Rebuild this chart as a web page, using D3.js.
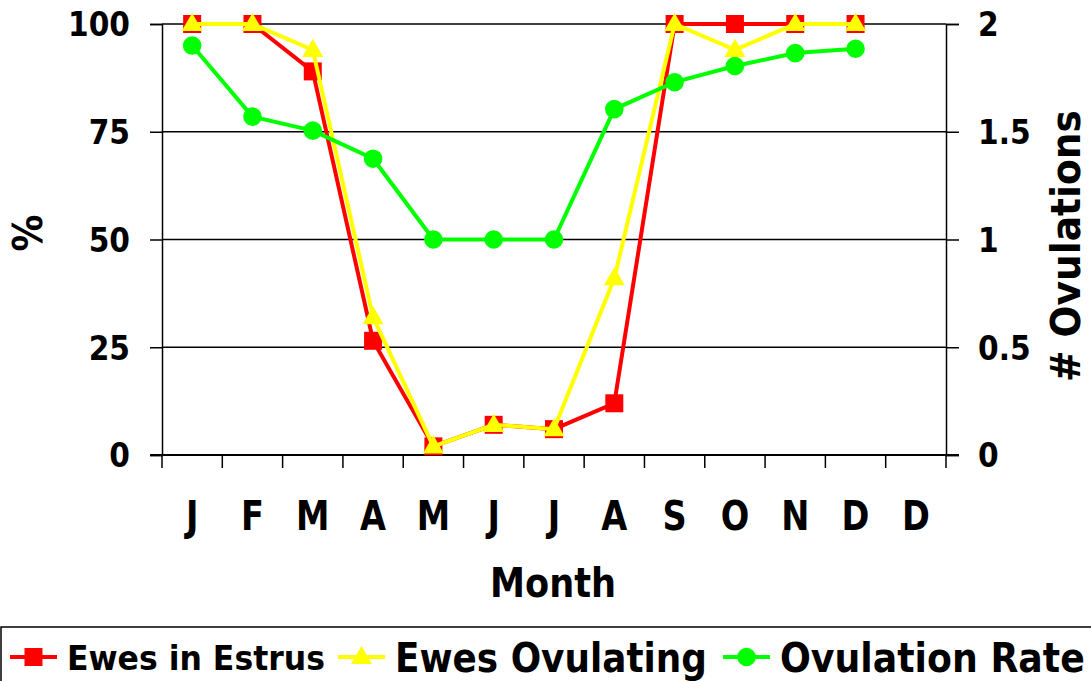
<!DOCTYPE html>
<html>
<head>
<meta charset="utf-8">
<script src="https://cdn.jsdelivr.net/npm/d3@7/dist/d3.min.js"></script>
<style>
  html, body { margin: 0; padding: 0; background: #fff; }
  svg { display: block; }
  text { font-family: "DejaVu Sans", Verdana, sans-serif; font-weight: bold; fill: #000; }
</style>
</head>
<body>
<svg id="chart" width="1091" height="681"></svg>
<script>
// ---- data ----
const months = ["J","F","M","A","M","J","J","A","S","O","N","D","D"];
const estrus = [100,100,89,26.5,2,7,6,12,100,100,100,100];
const ovulating = [100,100,94,32,2,7,6,41,100,94,100,100];
const ovulationRate = [1.9,1.57,1.505,1.375,1.0,1.0,1.0,1.605,1.73,1.805,1.865,1.885];
const leftTicks = [0,25,50,75,100];
const rightTicks = [0,0.5,1,1.5,2];
const seriesNames = ["Ewes in Estrus","Ewes Ovulating","Ovulation Rate"];

const svg = d3.select("#chart");
const L = 162, R = 946, T = 24, B = 455;

const x = d3.scaleBand().domain(d3.range(months.length)).range([L, R]).padding(0);
const y = d3.scaleLinear().domain([0,100]).range([B, T]);
const y2 = d3.scaleLinear().domain([0,2]).range([B, T]);

// horizontally condense axis tick texts (Tahoma-like width) via transform
function squeeze(sel, f) {
  sel.each(function() {
    const t = d3.select(this);
    const tx = +t.attr("x") || 0, ty = +t.attr("y") || 0;
    t.attr("x", 0).attr("y", 0).attr("transform", `translate(${tx},${ty}) scale(${f},1)`);
  });
}
// place a text with a given rendered width
function fitText(parent, str, px, py, size, width, anchor, rot) {
  const t = parent.append("text").attr("text-anchor", anchor).style("font-size", size + "px").text(str);
  const n = t.node().getComputedTextLength();
  t.attr("transform", `translate(${px},${py}) rotate(${rot || 0}) scale(${width / n},1)`);
  return t;
}

// gridlines
svg.append("g").selectAll("line").data(leftTicks.filter(d => d > 0)).join("line")
  .attr("x1", L).attr("x2", R).attr("y1", d => y(d)).attr("y2", d => y(d))
  .attr("stroke", "#000").attr("stroke-width", 1.5);

// left axis
const gl = svg.append("g").attr("transform", `translate(${L},0)`)
  .call(d3.axisLeft(y).tickValues(leftTicks).tickSize(12).tickPadding(20).tickFormat(d3.format("d")));
gl.select(".domain").attr("stroke", "#000").attr("stroke-width", 1.5);
gl.selectAll(".tick line").attr("stroke", "#000").attr("stroke-width", 1.5);
gl.selectAll(".tick text").style("font-size", "33px").attr("dy", "0.36em");
squeeze(gl.selectAll(".tick text"), 0.9);

// right axis
const gr = svg.append("g").attr("transform", `translate(${R},0)`)
  .call(d3.axisRight(y2).tickValues(rightTicks).tickSize(13).tickPadding(19).tickFormat(d => String(d)));
gr.select(".domain").attr("stroke", "#000").attr("stroke-width", 1.5);
gr.selectAll(".tick line").attr("stroke", "#000").attr("stroke-width", 1.5);
gr.selectAll(".tick text").style("font-size", "33px").attr("dy", "0.36em");
squeeze(gr.selectAll(".tick text"), 0.9);

// bottom axis (labels at band centers, ticks at band boundaries)
const gb = svg.append("g").attr("transform", `translate(0,${B})`)
  .call(d3.axisBottom(x).tickSize(0).tickPadding(75).tickFormat(i => months[i]));
gb.select(".domain").remove();
gb.selectAll(".tick text").style("font-size", "41px").attr("dy", "0");
squeeze(gb.selectAll(".tick text"), 0.82);
const bounds = d3.range(months.length).map(i => x(i)).concat([x.range()[1]]);
svg.append("g").selectAll("line").data(bounds).join("line")
  .attr("x1", d => d).attr("x2", d => d).attr("y1", B).attr("y2", B + 13)
  .attr("stroke", "#000").attr("stroke-width", 1.5);
svg.append("line").attr("x1", 150).attr("x2", 959).attr("y1", B).attr("y2", B)
  .attr("stroke", "#000").attr("stroke-width", 2.2);

// axis titles
fitText(svg, "Month", 553, 597, 41, 126, "middle", 0);
fitText(svg, "%", 42, 233, 41, 37, "middle", -90);
fitText(svg, "# Ovulations", 1080, 246, 40, 272, "middle", -90);

// series
const cx = i => x(i) + x.bandwidth() / 2;
const line1 = d3.line().x((d, i) => cx(i)).y(d => y(d));
const line2 = d3.line().x((d, i) => cx(i)).y(d => y2(d));
const sq = d3.symbol().type(d3.symbolSquare).size(18 * 18);
const tri = d3.symbol().type(d3.symbolTriangle).size(190);
const circ = d3.symbol().type(d3.symbolCircle).size(Math.PI * 9.3 * 9.3);

svg.append("path").datum(estrus).attr("d", line1).attr("fill", "none").attr("stroke", "#ff0000").attr("stroke-width", 4);
svg.append("g").selectAll("path").data(estrus).join("path")
  .attr("transform", (d, i) => `translate(${cx(i)},${y(d)})`).attr("d", sq).attr("fill", "#ff0000");

svg.append("path").datum(ovulating).attr("d", line1).attr("fill", "none").attr("stroke", "#ffff00").attr("stroke-width", 4);
svg.append("g").selectAll("path").data(ovulating).join("path")
  .attr("transform", (d, i) => `translate(${cx(i)},${y(d) + 1})`).attr("d", tri).attr("fill", "#ffff00");

svg.append("path").datum(ovulationRate).attr("d", line2).attr("fill", "none").attr("stroke", "#00ff00").attr("stroke-width", 4);
svg.append("g").selectAll("path").data(ovulationRate).join("path")
  .attr("transform", (d, i) => `translate(${cx(i)},${y2(d)})`).attr("d", circ).attr("fill", "#00ff00");

// legend
svg.append("rect").attr("x", 1).attr("y", 627).attr("width", 1100).attr("height", 80)
  .attr("fill", "#fff").attr("stroke", "#000").attr("stroke-width", 1.5);
const leg = [
  {name: seriesNames[0], color: "#ff0000", sym: sq, dy: 0, x0: 10, tx: 67, fs: 33, w: 258, by: 670},
  {name: seriesNames[1], color: "#ffff00", sym: tri, dy: 1, x0: 338, tx: 395, fs: 40, w: 312, by: 672},
  {name: seriesNames[2], color: "#00ff00", sym: circ, dy: 0, x0: 723, tx: 780, fs: 40, w: 305, by: 672}
];
const lgRoot = svg.append("g");
leg.forEach(d => {
  const g = lgRoot.append("g");
  g.append("line").attr("x1", d.x0).attr("x2", d.x0 + 47).attr("y1", 657).attr("y2", 657)
    .attr("stroke", d.color).attr("stroke-width", 4);
  g.append("path").attr("transform", `translate(${d.x0 + 23.5},${657 + d.dy})`)
    .attr("d", d.sym()).attr("fill", d.color);
  fitText(g, d.name, d.tx, d.by, d.fs, d.w, "start", 0);
});
</script>
</body>
</html>
